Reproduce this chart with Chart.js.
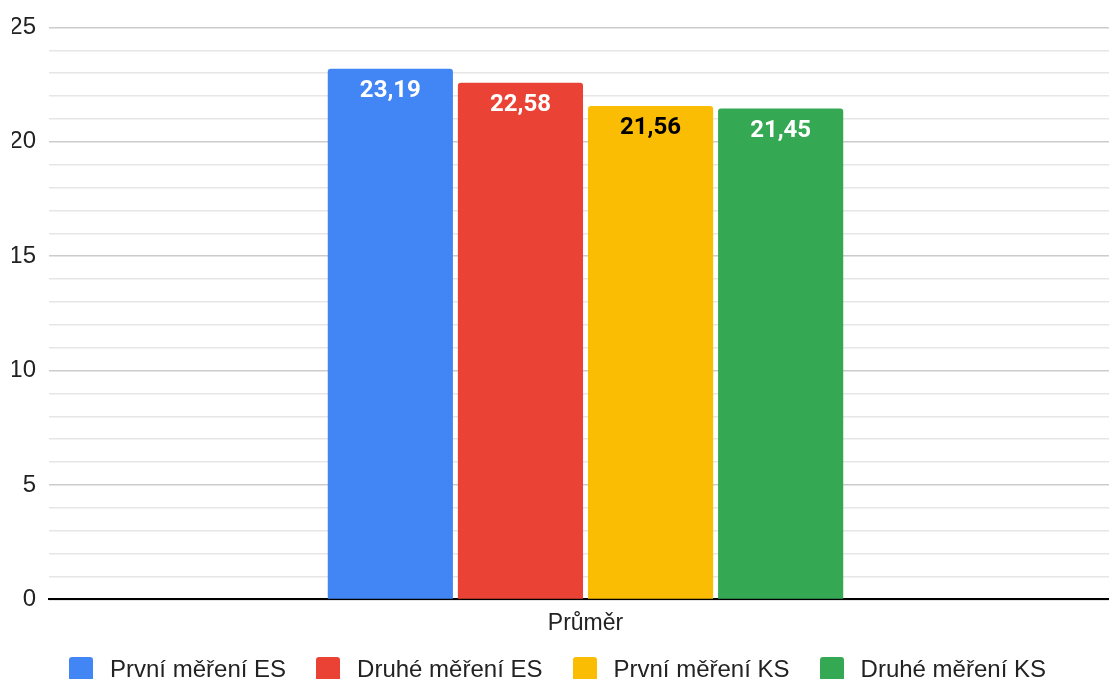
<!DOCTYPE html>
<html lang="cs">
<head>
<meta charset="utf-8">
<title>Průměr</title>
<script src="https://cdn.jsdelivr.net/npm/chart.js@4.4.0/dist/chart.umd.min.js"></script>
<style>
	html, body { margin:0; padding:0; background:#fff; overflow:hidden; }
	#wrap { position:relative; width:1109px; height:679px; overflow:hidden; }
	#chart { position:absolute; left:0; top:0; }
	#legend {
		position:absolute; left:3px; top:655px; width:1109px;
		display:flex; justify-content:center; align-items:center;
		font-family:"Liberation Sans", Arial, sans-serif; font-size:24px; color:#222;
	}
	#legend .item { display:flex; align-items:center; margin:0 15px; white-space:nowrap; }
	#legend .box { width:24px; height:24px; border-radius:3px; margin-right:17px; }
</style>
</head>
<body>
<div id="wrap">
	<canvas id="chart"></canvas>
	<div id="legend"></div>
</div>
<script>
	// data
	const categories = ['Průměr'];
	const seriesNames = ['První měření ES', 'Druhé měření ES', 'První měření KS', 'Druhé měření KS'];
	const seriesValues = [[23.19], [22.58], [21.56], [21.45]];
	const seriesColors = ['#4285F4', '#EA4335', '#FBBC04', '#34A853'];
	const labelColors = ['#ffffff', '#ffffff', '#000000', '#ffffff'];
	const yTicks = [0, 5, 10, 15, 20, 25];

	const canvas = document.getElementById('chart');
	// a bit wider than the window so the plot runs off the right edge
	canvas.width = 1122;
	canvas.height = 679;
	canvas.style.width = '1122px';
	canvas.style.height = '679px';

	// value labels written inside the top of each bar
	const barLabels = {
		id: 'barLabels',
		afterDatasetsDraw(chart){
			const ctx = chart.ctx;
			ctx.save();
			ctx.font = 'bold 24px Roboto, sans-serif';
			ctx.textAlign = 'center';
			ctx.textBaseline = 'middle';
			chart.data.datasets.forEach((ds, i) => {
				const meta = chart.getDatasetMeta(i);
				meta.data.forEach((bar, j) => {
					ctx.fillStyle = labelColors[i];
					ctx.fillText(ds.data[j].toFixed(2).replace('.', ','), bar.x, bar.y + 22);
				});
			});
			ctx.restore();
		}
	};

	new Chart(canvas.getContext('2d'), {
		type: 'bar',
		data: {
			labels: categories,
			datasets: seriesNames.map((name, i) => ({
				label: name,
				data: seriesValues[i],
				backgroundColor: seriesColors[i],
				borderRadius: { topLeft: 3, topRight: 3 },
				borderSkipped: false,
				categoryPercentage: 0.485,
				barPercentage: 0.962
			}))
		},
		options: {
			responsive: false,
			animation: false,
			layout: { padding: { top: 27, left: 12, right: 0, bottom: 32 } },
			plugins: {
				legend: { display: false },
				tooltip: { enabled: false }
			},
			scales: {
				x: {
					z: 1,
					grid: { display: false, drawTicks: false },
					border: { display: true, color: '#000', width: 2 },
					ticks: {
						padding: 10,
						color: '#222',
						font: { family: '"Liberation Sans", Arial, sans-serif', size: 23 }
					}
				},
				y: {
					min: 0,
					max: 25,
					afterBuildTicks(scale){
						const t = [];
						for(let v = 0; v <= 25; v++) t.push({ value: v });
						scale.ticks = t;
					},
					afterFit(scale){ scale.width = 37; },
					grid: {
						drawTicks: false,
						lineWidth: 1.5,
						color: ctx => yTicks.includes(ctx.tick.value) ? '#cccccc' : '#e6e6e6'
					},
					border: { display: false },
					ticks: {
						autoSkip: false,
						padding: 13,
						color: '#222',
						font: { family: '"Liberation Sans", Arial, sans-serif', size: 24 },
						callback: v => yTicks.includes(v) ? String(v) : ''
					}
				}
			}
		},
		plugins: [barLabels]
	});

	// legend
	const legend = document.getElementById('legend');
	seriesNames.forEach((name, i) => {
		const item = document.createElement('div');
		item.className = 'item';
		const box = document.createElement('span');
		box.className = 'box';
		box.style.background = seriesColors[i];
		const txt = document.createElement('span');
		txt.textContent = name;
		item.appendChild(box);
		item.appendChild(txt);
		legend.appendChild(item);
	});
</script>
</body>
</html>
